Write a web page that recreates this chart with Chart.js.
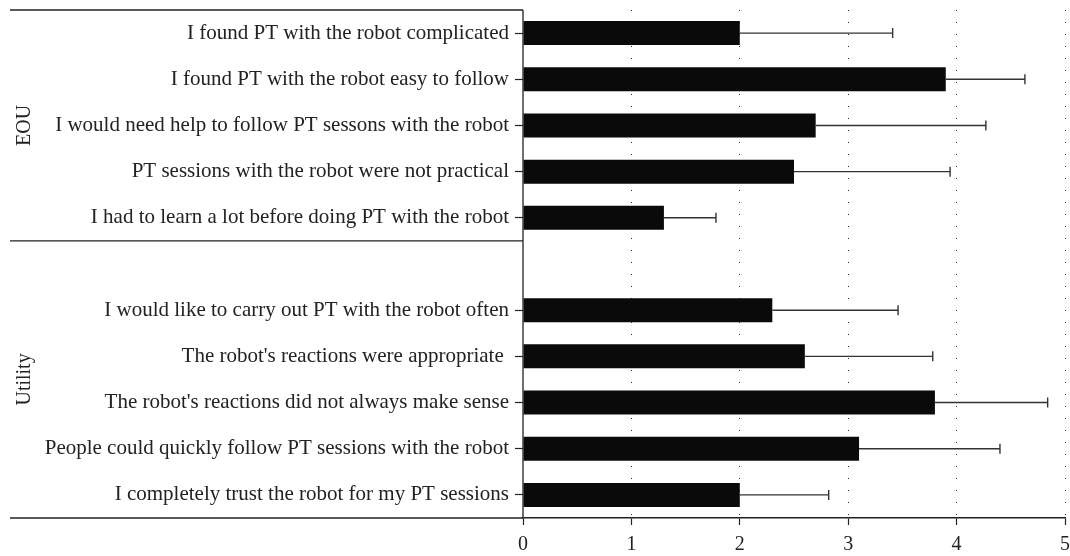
<!DOCTYPE html>
<html>
<head>
<meta charset="utf-8">
<script src="https://cdn.jsdelivr.net/npm/chart.js@4.4.0/dist/chart.umd.min.js"></script>
<style>
  html, body { margin: 0; padding: 0; background: #fff; }
  #wrap { width: 1070px; height: 556px; }
</style>
</head>
<body>
<div id="wrap"><canvas id="myChart"></canvas></div>
<script>
// row labels (index 5 is the empty gap between the two groups)
const itemLabels = [
  "I found PT with the robot complicated",
  "I found PT with the robot easy to follow",
  "I would need help to follow PT sessons with the robot",
  "PT sessions with the robot were not practical",
  "I had to learn a lot before doing PT with the robot",
  "",
  "I would like to carry out PT with the robot often",
  "The robot's reactions were appropriate ",
  "The robot's reactions did not always make sense",
  "People could quickly follow PT sessions with the robot",
  "I completely trust the robot for my PT sessions"
];
const meanValues = [2.0, 3.9, 2.7, 2.5, 1.3, null, 2.3, 2.6, 3.8, 3.1, 2.0];
const sdValues = [1.41, 0.73, 1.57, 1.44, 0.48, null, 1.16, 1.18, 1.04, 1.30, 0.82];
const xTicks = [0, 1, 2, 3, 4, 5];

// groups: name, first row, last row (inclusive)
const groupNames = ["EOU", "Utility"];
const groupFirst = [0, 5];
const groupLast = [4, 10];

const fontFamily = "'Liberation Serif', 'DejaVu Serif', serif";
const lineColor = "#222";

const errorBars = {
  id: "errorBars",
  afterDatasetsDraw(chart) {
    const ctx = chart.ctx;
    const xs = chart.scales.x;
    const meta = chart.getDatasetMeta(0);
    ctx.save();
    ctx.strokeStyle = "#333";
    ctx.lineWidth = 1.4;
    meta.data.forEach((bar, i) => {
      if (meanValues[i] == null) return;
      const x0 = bar.x;
      const x1 = xs.getPixelForValue(meanValues[i] + sdValues[i]);
      const y = bar.y;
      ctx.beginPath();
      ctx.moveTo(x0, y);
      ctx.lineTo(x1, y);
      ctx.moveTo(x1, y - 5);
      ctx.lineTo(x1, y + 5);
      ctx.stroke();
    });
    ctx.restore();
  }
};

const groupFrame = {
  id: "groupFrame",
  afterDraw(chart) {
    const ctx = chart.ctx;
    const ys = chart.scales.y;
    const area = chart.chartArea;
    const half = (ys.getPixelForValue(1) - ys.getPixelForValue(0)) / 2;
    const left = 10;

    ctx.save();
    ctx.strokeStyle = lineColor;
    ctx.lineWidth = 1.3;
    ctx.beginPath();
    // top line
    ctx.moveTo(left, area.top);
    ctx.lineTo(area.left, area.top);
    // separator between groups
    const sepY = ys.getPixelForValue(groupLast[0]) + half;
    ctx.moveTo(left, sepY);
    ctx.lineTo(area.left, sepY);
    // bottom line under the labels
    ctx.moveTo(left, area.bottom);
    ctx.lineTo(area.left, area.bottom);
    // y axis line
    ctx.moveTo(area.left, area.top);
    ctx.lineTo(area.left, area.bottom);
    ctx.stroke();

    // rotated group names
    ctx.fillStyle = "#222";
    ctx.font = "20px " + fontFamily;
    ctx.textAlign = "center";
    ctx.textBaseline = "middle";
    for (const g in groupNames) {
      const top = ys.getPixelForValue(groupFirst[g]) - half;
      const bottom = ys.getPixelForValue(groupLast[g]) + half;
      ctx.save();
      ctx.translate(25, (top + bottom) / 2);
      ctx.rotate(-Math.PI / 2);
      ctx.fillText(groupNames[g], 0, 0);
      ctx.restore();
    }
    ctx.restore();
  }
};

const ctx = document.getElementById("myChart");

new Chart(ctx, {
  type: "bar",
  data: {
    labels: itemLabels,
    datasets: [{
      label: "",
      data: meanValues,
      backgroundColor: "#0a0a0a",
      borderWidth: 0,
      barPercentage: 0.52,
      categoryPercentage: 1
    }]
  },
  options: {
    indexAxis: "y",
    responsive: true,
    maintainAspectRatio: false,
    animation: false,
    layout: { padding: { top: 10, right: 5, left: 0, bottom: 0 } },
    plugins: {
      legend: { display: false },
      tooltip: { enabled: false }
    },
    scales: {
      x: {
        min: 0,
        max: 5,
        afterBuildTicks: (scale) => {
          scale.ticks = xTicks.map(v => ({ value: v }));
        },
        afterFit: (scale) => {
          scale.height = 38;
          scale.paddingLeft = 0;
          scale.paddingRight = 0;
        },
        grid: {
          color: (c) => (c.index === 0 ? "rgba(0,0,0,0)" : "#333"),
          lineWidth: 1,
          drawTicks: true,
          tickLength: 7,
          tickColor: lineColor,
          tickWidth: 1.2,
          tickBorderDash: []
        },
        border: {
          display: true,
          color: lineColor,
          width: 1.4,
          dash: [1, 11]
        },
        ticks: {
          color: "#222",
          padding: 8,
          font: { family: fontFamily, size: 20 }
        }
      },
      y: {
        afterFit: (scale) => {
          scale.width = 523;
          scale.paddingTop = 0;
          scale.paddingBottom = 0;
        },
        grid: {
          offset: false,
          drawOnChartArea: false,
          drawTicks: true,
          tickLength: 8,
          tickWidth: 1.2,
          tickColor: (c) => (itemLabels[c.index] === "" ? "rgba(0,0,0,0)" : lineColor)
        },
        border: {
          display: false
        },
        ticks: {
          color: "#222",
          padding: 6,
          autoSkip: false,
          font: { family: fontFamily, size: 21 }
        }
      }
    }
  },
  plugins: [errorBars, groupFrame]
});
</script>
</body>
</html>
